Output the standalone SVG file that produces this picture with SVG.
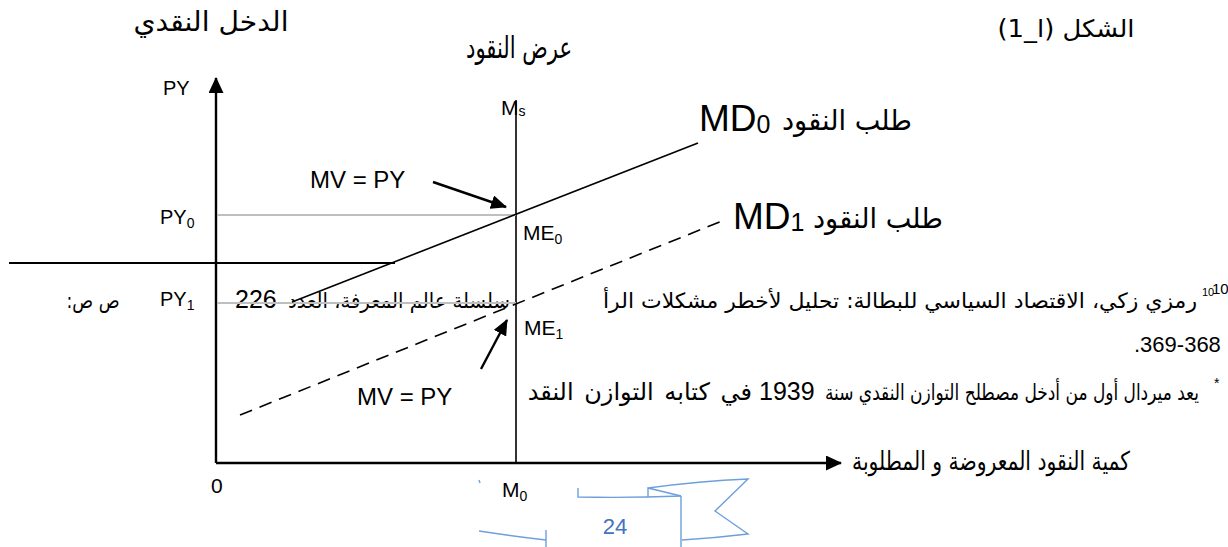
<svg xmlns="http://www.w3.org/2000/svg" width="1228" height="547" viewBox="0 0 1228 547">
<style>
.ar{font-family:"DejaVu Sans",sans-serif;direction:rtl;unicode-bidi:embed;fill:#000}
.lt{font-family:"Liberation Sans",Arial,sans-serif;fill:#000}
.ax{stroke:#000;stroke-width:2.4;fill:none}
.thin{stroke:#000;stroke-width:1.6;fill:none}
.grey{stroke:#bfbfbf;stroke-width:2;fill:none}
.dash{stroke:#000;stroke-width:1.6;fill:none;stroke-dasharray:13 8}
.blue{stroke:#6e9fdc;stroke-width:1.4;fill:none}
</style>
<defs>
<marker id="axh" markerWidth="16" markerHeight="15" refX="15" refY="7.5" orient="auto" markerUnits="userSpaceOnUse" viewBox="0 0 16 15">
<path d="M0,0 L16,7.5 L0,15 z" fill="#000"/>
</marker>
<marker id="ah2" markerWidth="16" markerHeight="14" refX="15" refY="7" orient="auto" markerUnits="userSpaceOnUse" viewBox="0 0 16 14">
<path d="M0,0 L16,7 L0,14 z" fill="#000"/>
</marker>
<clipPath id="clipR"><rect x="517" y="360" width="711" height="60"/></clipPath>
</defs>

<!-- footnote text (page background) -->
<g id="footnotes">
<line x1="9" y1="263" x2="395" y2="263" class="ax" style="stroke-width:2"/>
<text x="1202" y="296" class="lt" font-size="11">10</text>
<text x="1212" y="294" class="lt" font-size="15">10</text>
<text x="900" y="308" class="ar" font-size="21" text-anchor="middle" textLength="594" lengthAdjust="spacingAndGlyphs">رمزي زكي، الاقتصاد السياسي للبطالة: تحليل لأخطر مشكلات الرأ</text>
<text x="399" y="308" class="ar" font-size="21" text-anchor="middle" textLength="222" lengthAdjust="spacingAndGlyphs">سلسلة عالم المعرفة، العدد</text>
<text x="235" y="308" class="lt" font-size="25">226</text>
<text x="93" y="308" class="ar" font-size="21" text-anchor="middle" textLength="53" lengthAdjust="spacingAndGlyphs">ص ص:</text>
<text x="1134" y="352" class="lt" font-size="22">.369-368</text>
<text x="1214" y="388" class="lt" font-size="14">*</text>
<text x="1012" y="400" class="ar" font-size="22" text-anchor="middle" textLength="374" lengthAdjust="spacingAndGlyphs">يعد ميردال أول من أدخل مصطلح التوازن النقدي سنة</text>
<text x="759" y="400" class="lt" font-size="25">1939</text>
<g clip-path="url(#clipR)">
<text x="752" y="400" class="ar" font-size="24" word-spacing="3" text-anchor="start">في كتابه التوازن النقد</text>
</g>
</g>

<!-- axes and curves -->
<g id="connectors">
<line x1="216" y1="463" x2="216" y2="78" class="ax" marker-end="url(#axh)"/>
<line x1="216" y1="463" x2="841" y2="463" class="ax" marker-end="url(#axh)"/>
<line x1="516" y1="100" x2="516" y2="463" class="thin"/>
<line x1="217" y1="215" x2="516" y2="215" class="grey"/>
<line x1="217" y1="303" x2="516" y2="303" class="grey"/>
<line x1="292" y1="302" x2="698" y2="143" class="thin"/>
<line x1="240" y1="415" x2="722" y2="221" class="dash"/>
<line x1="433" y1="182" x2="506" y2="207" class="thin" style="stroke-width:2.4" marker-end="url(#ah2)"/>
<line x1="481" y1="369" x2="507" y2="320" class="thin" style="stroke-width:2.4" marker-end="url(#ah2)"/>
</g>

<g id="title"><text x="1066" y="37" class="ar" font-size="24" text-anchor="middle" textLength="137" lengthAdjust="spacingAndGlyphs">الشكل (ا_1)</text></g>
<g id="y-label"><text x="211" y="31" class="ar" font-size="27" text-anchor="middle" textLength="155" lengthAdjust="spacingAndGlyphs">الدخل النقدي</text>
<text x="163" y="95" class="lt" font-size="20">PY</text></g>
<g id="supply-label"><text x="519" y="58" class="ar" font-size="30" text-anchor="middle" textLength="106" lengthAdjust="spacingAndGlyphs">عرض النقود</text>
<text x="501" y="115" class="lt" font-size="21">M<tspan font-size="14" dy="1">s</tspan></text></g>
<g id="md0-label"><text x="699" y="131" class="lt" font-size="37">MD<tspan font-size="25" dy="2">0</tspan></text>
<text x="847" y="130" class="ar" font-size="28" text-anchor="middle" textLength="130" lengthAdjust="spacingAndGlyphs">طلب النقود</text></g>
<g id="md1-label"><text x="733" y="229" class="lt" font-size="37">MD<tspan font-size="25" dy="2">1</tspan></text>
<text x="878" y="228" class="ar" font-size="28" text-anchor="middle" textLength="130" lengthAdjust="spacingAndGlyphs">طلب النقود</text></g>
<g id="py0"><text x="160" y="224" class="lt" font-size="20">PY<tspan font-size="14" dy="4">0</tspan></text></g>
<g id="py1"><text x="160" y="306" class="lt" font-size="20">PY<tspan font-size="14" dy="4">1</tspan></text></g>
<g id="me0"><text x="523" y="240" class="lt" font-size="21">ME<tspan font-size="14" dy="4">0</tspan></text></g>
<g id="me1"><text x="524" y="335" class="lt" font-size="21">ME<tspan font-size="14" dy="4">1</tspan></text></g>
<g id="mvpy-top"><text x="310" y="188" class="lt" font-size="24">MV = PY</text></g>
<g id="mvpy-bottom"><text x="357" y="405" class="lt" font-size="24">MV = PY</text></g>
<g id="origin"><text x="211" y="493" class="lt" font-size="21">0</text></g>
<g id="m0"><text x="502" y="497" class="lt" font-size="21">M<tspan font-size="14" dy="4">0</tspan></text></g>
<g id="x-label"><text x="991" y="470" class="ar" font-size="26" text-anchor="middle" textLength="278" lengthAdjust="spacingAndGlyphs">كمية النقود المعروضة و المطلوبة</text></g>

<g id="page-number">
<path class="blue" d="M479,480 L480,483"/>
<path class="blue" d="M578,488 L578,497 Q630,498 681,496"/>
<path class="blue" d="M648,497 L648,488 L681,496 M648,488 Q700,481 748,479 L715,511 L748,534 Q715,538 682,540 M681,496 L681,547"/>
<path class="blue" d="M479,531 Q512,536 546,540 M546,530 L546,547"/>
<text x="615" y="534" font-family="Liberation Sans, Arial, sans-serif" font-size="22" fill="#4472c4" text-anchor="middle">24</text>
</g>
</svg>
